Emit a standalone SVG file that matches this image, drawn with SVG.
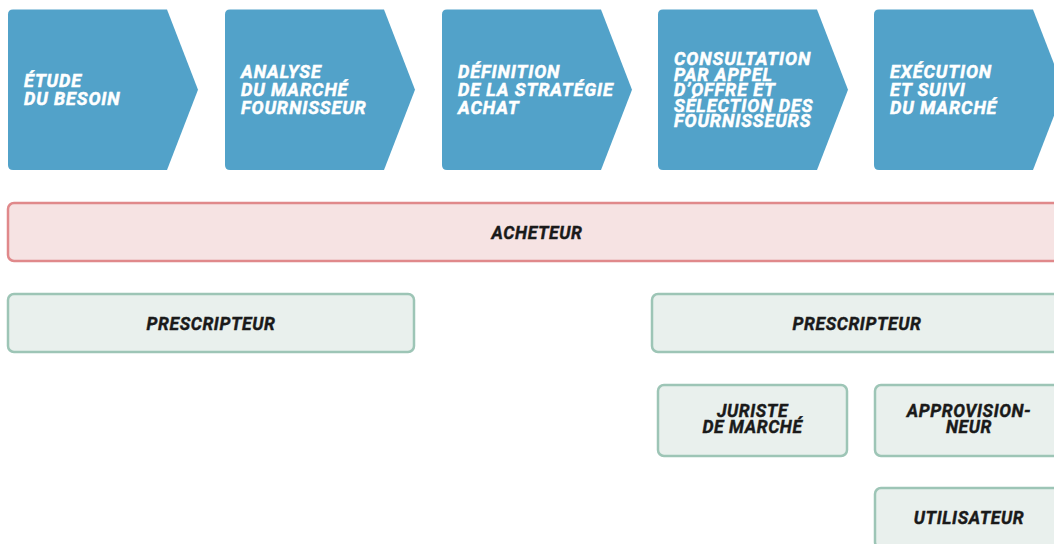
<svg xmlns="http://www.w3.org/2000/svg" width="1054" height="544" viewBox="0 0 1054 544">
<style>
.chev{fill:#52a2c9;}
.wt{font-family:Roboto,"Liberation Sans",sans-serif;font-weight:700;font-style:italic;font-size:18px;letter-spacing:0.9px;fill:#ffffff;stroke:#ffffff;stroke-width:0.5px;}
.bt{font-family:Roboto,"Liberation Sans",sans-serif;font-weight:700;font-style:italic;font-size:17.5px;letter-spacing:0.6px;fill:#1a1a1a;stroke:#1a1a1a;stroke-width:0.4px;text-anchor:middle;}
.red{fill:#f6e3e3;stroke:#e0898b;stroke-width:2.5;}
.grn{fill:#e9f0ed;stroke:#9dc5b6;stroke-width:2.5;}
</style>
<rect width="1054" height="544" fill="#ffffff"/>
<g id="connectors"/>
<g id="step1" transform="translate(8,0)">
<path class="chev" d="M5,9.5 H159 L190,89.75 L159,170 H5 Q0,170 0,165 V14.5 Q0,9.5 5,9.5 Z"/>
<text class="wt"><tspan x="16" y="87">ÉTUDE</tspan><tspan x="16" y="105">DU BESOIN</tspan></text>
</g>
<g id="step2" transform="translate(225,0)">
<path class="chev" d="M5,9.5 H159 L190,89.75 L159,170 H5 Q0,170 0,165 V14.5 Q0,9.5 5,9.5 Z"/>
<text class="wt"><tspan x="16" y="78">ANALYSE</tspan><tspan x="16" y="96">DU MARCHÉ</tspan><tspan x="16" y="114">FOURNISSEUR</tspan></text>
</g>
<g id="step3" transform="translate(442,0)">
<path class="chev" d="M5,9.5 H159 L190,89.75 L159,170 H5 Q0,170 0,165 V14.5 Q0,9.5 5,9.5 Z"/>
<text class="wt"><tspan x="16" y="78">DÉFINITION</tspan><tspan x="16" y="96">DE LA STRATÉGIE</tspan><tspan x="16" y="114">ACHAT</tspan></text>
</g>
<g id="step4" transform="translate(658,0)">
<path class="chev" d="M5,9.5 H159 L190,89.75 L159,170 H5 Q0,170 0,165 V14.5 Q0,9.5 5,9.5 Z"/>
<text class="wt"><tspan x="16" y="65">CONSULTATION</tspan><tspan x="16" y="80.5">PAR APPEL</tspan><tspan x="16" y="96">D’OFFRE ET</tspan><tspan x="16" y="111.5">SÉLECTION DES</tspan><tspan x="16" y="127">FOURNISSEURS</tspan></text>
</g>
<g id="step5" transform="translate(874,0)">
<path class="chev" d="M5,9.5 H159 L190,89.75 L159,170 H5 Q0,170 0,165 V14.5 Q0,9.5 5,9.5 Z"/>
<text class="wt"><tspan x="16" y="78">EXÉCUTION</tspan><tspan x="16" y="96">ET SUIVI</tspan><tspan x="16" y="114">DU MARCHÉ</tspan></text>
</g>
<g id="acheteur">
<rect class="red" x="8" y="203" width="1058" height="58" rx="6"/>
<text class="bt" x="537" y="238.5">ACHETEUR</text>
</g>
<g id="prescripteur1">
<rect class="grn" x="8" y="294" width="406" height="58" rx="6"/>
<text class="bt" x="211" y="329.5">PRESCRIPTEUR</text>
</g>
<g id="prescripteur2">
<rect class="grn" x="652" y="294" width="410" height="58" rx="6"/>
<text class="bt" x="857" y="329.5">PRESCRIPTEUR</text>
</g>
<g id="juriste">
<rect class="grn" x="658" y="385" width="189" height="71" rx="6"/>
<text class="bt"><tspan x="752.5" y="417">JURISTE</tspan><tspan x="752.5" y="433">DE MARCHÉ</tspan></text>
</g>
<g id="approvisionneur">
<rect class="grn" x="875" y="385" width="189" height="71" rx="6"/>
<text class="bt"><tspan x="969" y="417">APPROVISION-</tspan><tspan x="969" y="433">NEUR</tspan></text>
</g>
<g id="utilisateur">
<rect class="grn" x="875" y="488" width="189" height="60" rx="6"/>
<text class="bt" x="969" y="524">UTILISATEUR</text>
</g>
</svg>
